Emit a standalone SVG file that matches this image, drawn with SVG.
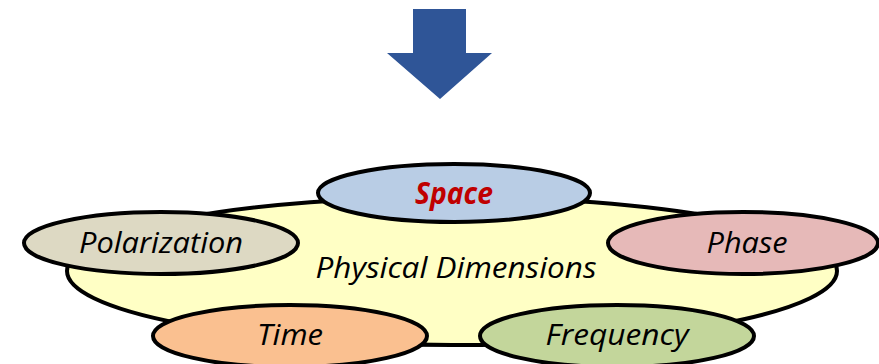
<svg xmlns="http://www.w3.org/2000/svg" width="879" height="364" viewBox="0 0 879 364">
<style>
.e{stroke:#000;stroke-width:4}
.t{font-family:"Open Sans","Liberation Sans",sans-serif;font-style:italic;font-size:30px;fill:#000;text-anchor:middle}
</style>
<rect width="879" height="364" fill="#fff"/>
<g id="arrow"><polygon points="413,9 466,9 466,53 492,53 440,99 387,53 413,53" fill="#2F5597"/></g>
<g id="base"><ellipse class="e" cx="452" cy="271" rx="385" ry="74" fill="#FFFFC5"/><text class="t" x="456" y="278" textLength="281" lengthAdjust="spacingAndGlyphs">Physical Dimensions</text></g>
<g id="connectors"></g>
<g id="space"><ellipse class="e" cx="454" cy="193" rx="136" ry="29" fill="#B9CDE5"/><text class="t" x="454" y="204" textLength="78" lengthAdjust="spacingAndGlyphs" style="font-weight:bold;fill:#C00000">Space</text></g>
<g id="polarization"><ellipse class="e" cx="161" cy="243" rx="137" ry="31" fill="#DDD9C3"/><text class="t" x="161" y="253" textLength="164" lengthAdjust="spacingAndGlyphs">Polarization</text></g>
<g id="phase"><ellipse class="e" cx="743" cy="243" rx="135" ry="31" fill="#E6B9B8"/><text class="t" x="747" y="253" textLength="81" lengthAdjust="spacingAndGlyphs">Phase</text></g>
<g id="time"><ellipse class="e" cx="290" cy="336" rx="137" ry="31" fill="#FAC090"/><text class="t" x="290" y="345" textLength="66" lengthAdjust="spacingAndGlyphs">Time</text></g>
<g id="frequency"><ellipse class="e" cx="617" cy="336" rx="137" ry="31" fill="#C3D69B"/><text class="t" x="617" y="345" textLength="143" lengthAdjust="spacingAndGlyphs">Frequency</text></g>
</svg>
